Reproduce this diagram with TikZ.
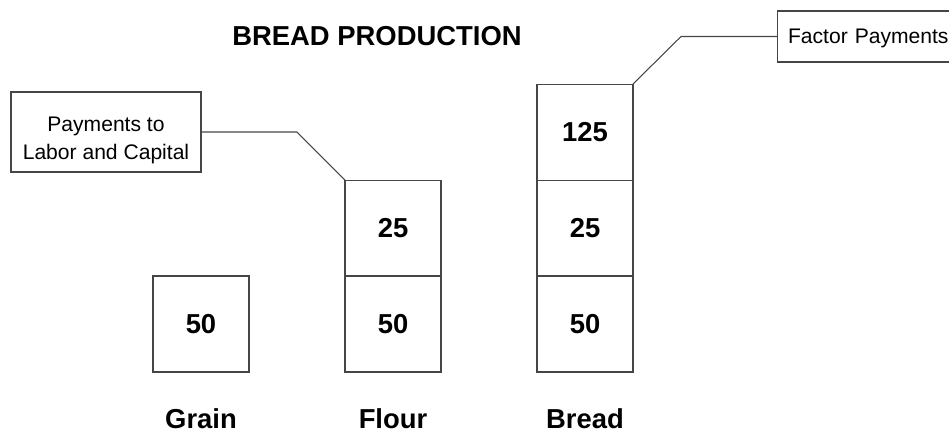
\documentclass[tikz,border=0pt]{standalone}
\usepackage{fontspec}
\setmainfont{Liberation Sans}
\usepackage{tikz}
\usetikzlibrary{positioning}
\definecolor{lineGray}{RGB}{70,70,70}
\tikzset{
  valbox/.style={rectangle,draw=lineGray,line width=0.6pt,
    minimum width=1.92cm,minimum height=1.92cm,inner sep=0pt,outer sep=0pt,
    font=\fontsize{15.6}{18}\selectfont\bfseries},
  callout/.style={rectangle,draw=lineGray,line width=0.6pt,align=center,
    inner sep=0pt,outer sep=0pt,font=\fontsize{12}{16}\selectfont},
  caption/.style={anchor=base,font=\fontsize{15.6}{18}\selectfont\bfseries},
  leader/.style={draw=lineGray,line width=0.6pt}
}

\begin{document}
\begin{tikzpicture}[x=0.02cm,y=-0.02cm]
  \useasboundingbox (0,0) rectangle (949,430);
  \node[font=\fontsize{15.6}{18}\selectfont\bfseries] (title) at (377,36)
    {BREAD PRODUCTION};

  % stacked value boxes
  \node[valbox] (g50) at (201,324) {50};
  \node[valbox] (f50) at (393,324) {50};
  \node[valbox, above=0pt of f50] (f25) {25};
  \node[valbox] (b50) at (585,324) {50};
  \node[valbox, above=0pt of b50] (b25) {25};
  \node[valbox, above=0pt of b25] (b125) {125};

  \node[caption] (grain) at (201,428) {Grain};
  \node[caption] (flour) at (393,428) {Flour};
  \node[caption] (bread) at (585,428) {Bread};

  % callouts
  \node[callout, minimum width=3.8cm, minimum height=1.6cm] (pay) at (106,132)
    {\rule{0pt}{17.5pt}Payments to\\Labor and Capital};
  \node[callout, minimum width=3.6cm, minimum height=1.02cm,
    text width=3.6cm, text depth=0pt, align=left] (fac) at (867,36.5)
    {\hspace{0.22cm}Factor Payments};
  \draw[leader] (pay.east) -- ++(96,0) -- (f25.north west);
  \draw[leader] (fac.west) -- ++(-96,0) -- (b125.north east);
\end{tikzpicture}
\end{document}
